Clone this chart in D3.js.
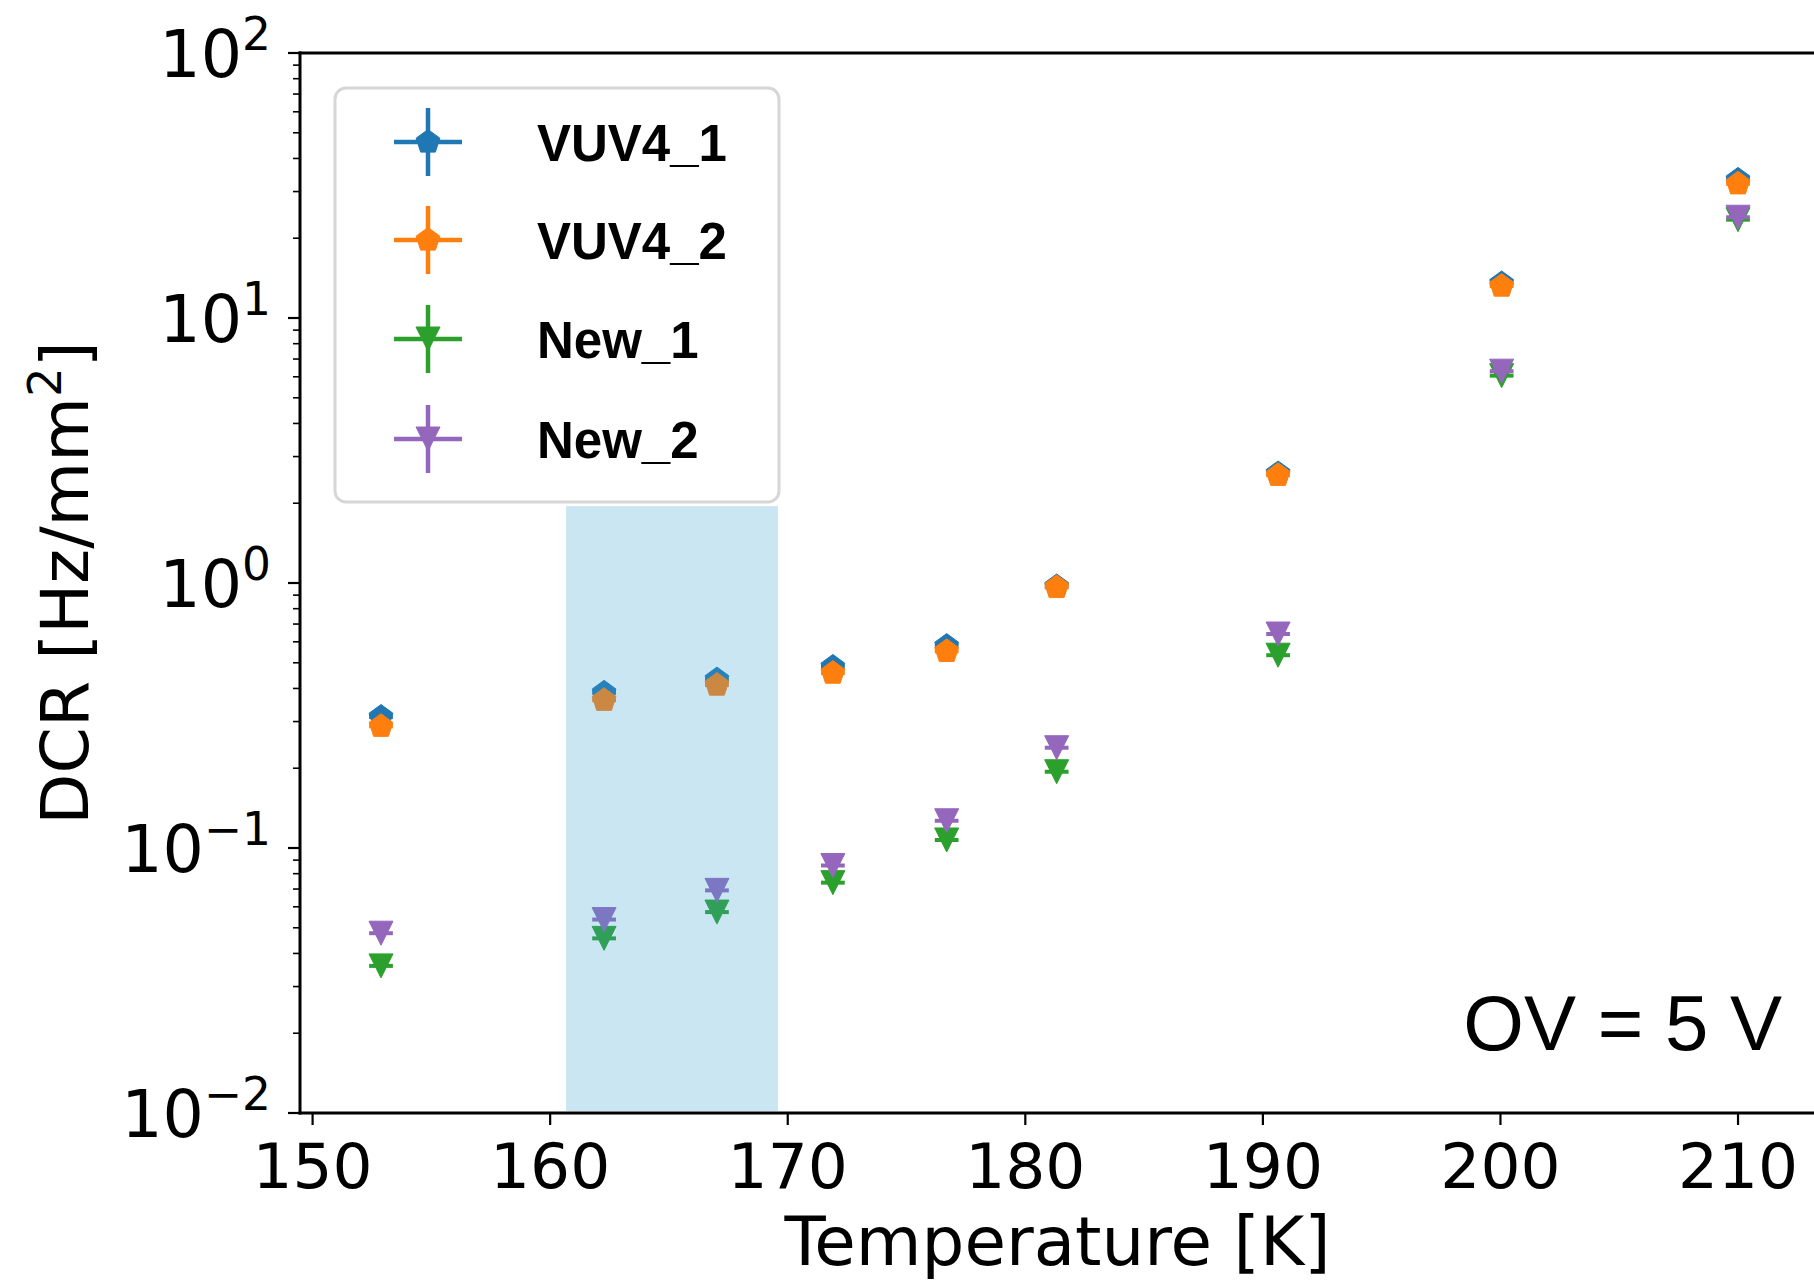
<!DOCTYPE html>
<html>
<head>
<meta charset="utf-8">
<script src="https://cdn.jsdelivr.net/npm/d3@7"></script>
<style>
  html, body { margin: 0; padding: 0; background: #fff; }
  svg { display: block; }
</style>
</head>
<body>
<svg id="chart" width="1814" height="1281"></svg>
<script>
// ---------------- data ----------------
const temperatures = [152.88, 162.27, 167.02, 171.9, 176.69, 181.32, 190.64, 200.05, 210.0];
const vuv4_1 = [0.312, 0.385, 0.432, 0.482, 0.578, 0.970, 2.59, 13.5, 33.2];
const vuv4_2 = [0.288, 0.361, 0.412, 0.457, 0.552, 0.962, 2.55, 13.2, 32.1];
const new_1  = [0.0359, 0.0456, 0.0573, 0.0740, 0.1072, 0.194, 0.534, 6.06, 23.5];
const new_2  = [0.0477, 0.0537, 0.0692, 0.0859, 0.1267, 0.239, 0.642, 6.30, 24.0];
const xErr   = [0.5, 0.5, 0.5, 0.5, 0.5, 0.5, 0.5, 0.5, 0.5];
const seriesNames = ["VUV4_1", "VUV4_2", "New_1", "New_2"];
const seriesColors = ["#1f77b4", "#ff7f0e", "#2ca02c", "#9467bd"];
const seriesMarkers = ["pentagon", "pentagon", "tridown", "tridown"];
const xTicks = [150, 160, 170, 180, 190, 200, 210];
const yTickExps = [-2, -1, 0, 1, 2];
const bandX = [160.67, 169.59];
const bandY = [0.01, 1.95];
const annotation = "OV = 5 V";
const xLabel = "Temperature [K]";

const seriesValues = [vuv4_1, vuv4_2, new_1, new_2];

// ---------------- layout ----------------
const svg = d3.select("#chart");
const L = 300, R = 1815, T = 53, B = 1113;
const x = d3.scaleLinear().domain([149.47, 213.24]).range([L, R]);
const y = d3.scaleLog().domain([0.01, 100]).range([B, T]);

const tickFont = "DejaVu Sans, sans-serif";

function markerPath(kind, r) {
  if (kind === "pentagon") {
    const pts = d3.range(5).map(i => {
      const a = -Math.PI / 2 + i * 2 * Math.PI / 5;
      return [r * Math.cos(a), r * Math.sin(a)];
    });
    return "M" + pts.map(p => p.join(",")).join("L") + "Z";
  } else {
    return `M0,${r}L${-r},${-r}L${r},${-r}Z`;
  }
}

// data series
const plot = svg.append("g");
seriesValues.forEach((vals, si) => {
  const g = plot.append("g");
  const color = seriesColors[si];
  const pts = temperatures.map((t, i) => ({t, v: vals[i], e: xErr[i]}));
  g.selectAll("line.xerr").data(pts).join("line")
    .attr("x1", d => x(d.t - d.e)).attr("x2", d => x(d.t + d.e))
    .attr("y1", d => y(d.v)).attr("y2", d => y(d.v))
    .attr("stroke", color).attr("stroke-width", 4);
  const r = seriesMarkers[si] === "pentagon" ? 12.5 : 12;
  g.selectAll("path.mk").data(pts).join("path")
    .attr("transform", d => `translate(${x(d.t)},${y(d.v)})`)
    .attr("d", markerPath(seriesMarkers[si], r))
    .attr("fill", color).attr("stroke", color).attr("stroke-width", 1);
});

// shaded band (drawn over markers, translucent)
svg.append("rect")
  .attr("x", x(bandX[0])).attr("width", x(bandX[1]) - x(bandX[0]))
  .attr("y", y(bandY[1])).attr("height", y(bandY[0]) - y(bandY[1]) - 2)
  .attr("fill", "rgb(59,161,210)").attr("fill-opacity", 0.27);

// spines
const ax = svg.append("g").attr("stroke", "#000");
ax.append("line").attr("x1", L).attr("x2", L).attr("y1", T - 1.5).attr("y2", B + 1.5).attr("stroke-width", 3);
ax.append("line").attr("x1", L - 1.5).attr("x2", R + 2).attr("y1", B).attr("y2", B).attr("stroke-width", 3);
ax.append("line").attr("x1", L - 1.5).attr("x2", R + 2).attr("y1", T).attr("y2", T).attr("stroke-width", 3);

// x ticks
const xg = svg.append("g");
xg.selectAll("line").data(xTicks).join("line")
  .attr("x1", d => x(d)).attr("x2", d => x(d))
  .attr("y1", B).attr("y2", B + 12)
  .attr("stroke", "#000").attr("stroke-width", 2.2);
xg.selectAll("text").data(xTicks).join("text")
  .attr("x", d => x(d)).attr("y", 1188)
  .attr("text-anchor", "middle")
  .attr("font-family", tickFont).attr("font-size", 63)
  .attr("fill", "#000")
  .text(d => d);

// y ticks (major + minor)
const yg = svg.append("g");
yg.selectAll("line.maj").data(yTickExps).join("line")
  .attr("x1", L - 12).attr("x2", L)
  .attr("y1", d => y(Math.pow(10, d))).attr("y2", d => y(Math.pow(10, d)))
  .attr("stroke", "#000").attr("stroke-width", 2.2);
const minors = [];
for (let e = -2; e < 2; e++) for (let m = 2; m <= 9; m++) minors.push(m * Math.pow(10, e));
yg.selectAll("line.min").data(minors).join("line")
  .attr("x1", L - 7).attr("x2", L)
  .attr("y1", d => y(d)).attr("y2", d => y(d))
  .attr("stroke", "#000").attr("stroke-width", 1.6);
yg.selectAll("text").data(yTickExps).join("text")
  .attr("x", 271).attr("y", d => y(Math.pow(10, d)) + 24)
  .attr("text-anchor", "end")
  .attr("font-family", tickFont).attr("font-size", 65)
  .attr("fill", "#000")
  .each(function(d) {
    const t = d3.select(this);
    t.append("tspan").text("10");
    t.append("tspan").attr("dy", -27).attr("font-size", 45.5)
      .text(d < 0 ? "\u2212" + Math.abs(d) : String(d));
  });

// axis labels
svg.append("text")
  .attr("x", (L + R) / 2).attr("y", 1265)
  .attr("text-anchor", "middle")
  .attr("font-family", tickFont).attr("font-size", 67.5)
  .text(xLabel);
const yl = svg.append("text")
  .attr("transform", `translate(88,${(T + B) / 2}) rotate(-90)`)
  .attr("text-anchor", "middle")
  .attr("font-family", tickFont).attr("font-size", 66.5);
yl.append("tspan").text("DCR [Hz/mm");
yl.append("tspan").attr("dy", -27).attr("font-size", 46.5).text("2");
yl.append("tspan").attr("dy", 27).text("]");

// annotation
svg.append("text")
  .attr("x", 1782).attr("y", 1050)
  .attr("text-anchor", "end")
  .attr("font-family", "Liberation Sans, Arial, sans-serif").attr("font-size", 78)
  .text(annotation);

// legend
const lg = svg.append("g");
lg.append("rect")
  .attr("x", 335).attr("y", 88).attr("width", 444).attr("height", 414)
  .attr("rx", 11).attr("ry", 11)
  .attr("fill", "#fff").attr("fill-opacity", 0.8)
  .attr("stroke", "#d6d6d6").attr("stroke-width", 3);
const rowY = [142, 240, 339, 439];
seriesNames.forEach((name, i) => {
  const cy = rowY[i], cx = 428, color = seriesColors[i];
  lg.append("line").attr("x1", cx - 34).attr("x2", cx + 34).attr("y1", cy).attr("y2", cy)
    .attr("stroke", color).attr("stroke-width", 4.5);
  lg.append("line").attr("x1", cx).attr("x2", cx).attr("y1", cy - 34).attr("y2", cy + 34)
    .attr("stroke", color).attr("stroke-width", 4.5);
  lg.append("path").attr("transform", `translate(${cx},${cy})`)
    .attr("d", markerPath(seriesMarkers[i], seriesMarkers[i] === "pentagon" ? 12.5 : 12))
    .attr("fill", color).attr("stroke", color).attr("stroke-width", 1);
  lg.append("text").attr("x", 537).attr("y", cy + 19)
    .attr("font-family", "Liberation Sans, Arial, sans-serif").attr("font-weight", "bold")
    .attr("font-size", 51).attr("fill", "#000")
    .text(name);
});
</script>
</body>
</html>
